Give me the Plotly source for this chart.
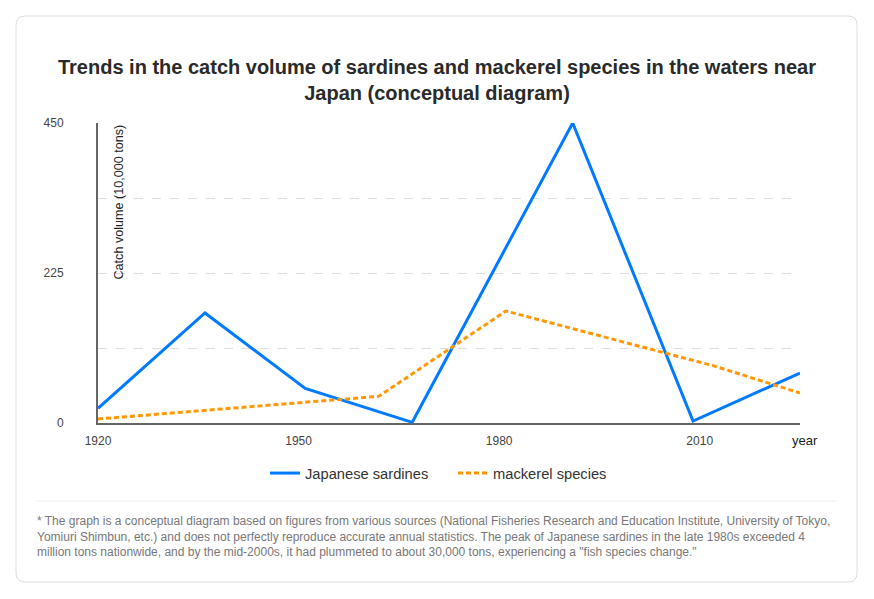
import plotly.graph_objects as go

# Data
sardine_years = [1920, 1936, 1951, 1967, 1991, 2009, 2025]
sardine_vals = [22, 165, 52, 1, 450, 3, 75]
mackerel_years = [1920, 1962, 1981, 2012, 2025]
mackerel_vals = [6, 40, 168, 86, 45]
x_ticks = [1920, 1950, 1980, 2010]
y_ticks = [0, 225, 450]

W, H = 874, 599
L, R, T, B = 98, 800, 123, 423  # plot area in pixels

def px(x):
    return (x - L) / (R - L)

def py(y):
    return (B - y) / (B - T)

FONT = "Liberation Sans, Arial, sans-serif"

fig = go.Figure()
fig.add_trace(go.Scatter(
    x=sardine_years, y=sardine_vals, mode="lines", name="Japanese sardines",
    line=dict(color="#007bff", width=3)))
fig.add_trace(go.Scatter(
    x=mackerel_years, y=mackerel_vals, mode="lines", name="mackerel species",
    line=dict(color="#ff9800", width=3, dash="5px,3px")))

fig.update_layout(
    width=W, height=H,
    margin=dict(l=L, r=W - R, t=T, b=H - B),
    paper_bgcolor="white", plot_bgcolor="white",
    font=dict(family=FONT, color="#444", size=12),
    title=dict(
        text="Trends in the catch volume of sardines and mackerel species in the waters near<br>Japan (conceptual diagram)",
        x=0.5, xref="container", xanchor="center", y=1 - 74 / H, yref="container", yanchor="top",
        font=dict(size=20, family=FONT, color="#2a2a2a", weight="bold")),
    showlegend=True,
    legend=dict(orientation="h", x=px(453), xanchor="center", y=py(457), yanchor="top",
                font=dict(size=14.7, color="#333"), itemwidth=30, entrywidth=143, entrywidthmode="pixels"),
    xaxis=dict(range=[1920, 2025], tickvals=x_ticks, showgrid=False, zeroline=False,
               showline=True, linecolor="#666", linewidth=2, ticks="",
               tickfont=dict(size=12, color="#444"), ticklabelstandoff=6),
    yaxis=dict(range=[0, 450], tickvals=y_ticks, showgrid=True, gridcolor="#dddddd",
               griddash="dash", gridwidth=1, zeroline=False,
               showline=True, linecolor="#666", linewidth=2, ticks="",
               tickfont=dict(size=12, color="#444"), ticklabelstandoff=30,
               minor=dict(tickvals=[112.5, 337.5], showgrid=True, gridcolor="#dddddd",
                          griddash="dash", gridwidth=1)),
)

# card border (rounded rectangle)
x0, y0, x1, y1, r = 16, 16, 857, 582, 9
path = (f"M {px(x0 + r)} {py(y0)} L {px(x1 - r)} {py(y0)} "
        f"Q {px(x1)} {py(y0)} {px(x1)} {py(y0 + r)} "
        f"L {px(x1)} {py(y1 - r)} Q {px(x1)} {py(y1)} {px(x1 - r)} {py(y1)} "
        f"L {px(x0 + r)} {py(y1)} Q {px(x0)} {py(y1)} {px(x0)} {py(y1 - r)} "
        f"L {px(x0)} {py(y0 + r)} Q {px(x0)} {py(y0)} {px(x0 + r)} {py(y0)} Z")
fig.add_shape(type="path", path=path, xref="paper", yref="paper",
              line=dict(color="#dddddd", width=1), layer="below")
# separator line
fig.add_shape(type="line", xref="paper", yref="paper", x0=px(36), x1=px(837),
              y0=py(501), y1=py(501), line=dict(color="#eeeeee", width=1))

# y-axis title inside plot
fig.add_annotation(text="Catch volume (10,000 tons)", textangle=-90, xref="paper", yref="paper",
                   x=px(109), y=1, xanchor="left", yanchor="top", showarrow=False,
                   font=dict(size=12.6, color="#222"))
# x-axis title
fig.add_annotation(text="year", xref="paper", yref="paper", x=px(790), y=py(440),
                   xanchor="left", yanchor="middle", showarrow=False,
                   font=dict(size=13, color="#222"))
# footnote
foot = ("* The graph is a conceptual diagram based on figures from various sources (National Fisheries Research and Education Institute, University of Tokyo,<br>"
        "Yomiuri Shimbun, etc.) and does not perfectly reproduce accurate annual statistics. The peak of Japanese sardines in the late 1980s exceeded 4<br>"
        "million tons nationwide, and by the mid-2000s, it had plummeted to about 30,000 tons, experiencing a \"fish species change.\"")
fig.add_annotation(text=foot, xref="paper", yref="paper", x=px(35), y=py(512),
                   xanchor="left", yanchor="top", align="left", showarrow=False,
                   font=dict(size=12, color="#777"))

fig.write_html("out.html")
